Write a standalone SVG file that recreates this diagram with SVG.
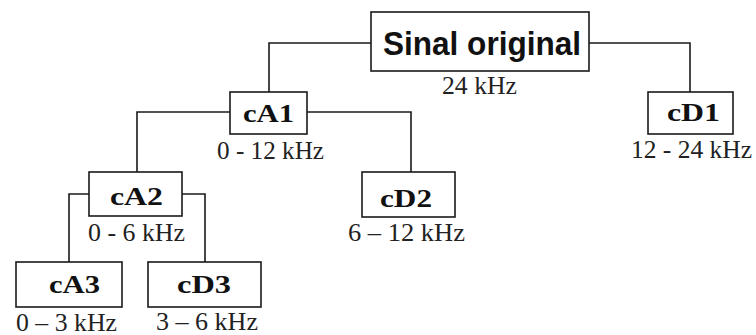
<svg xmlns="http://www.w3.org/2000/svg" width="756" height="335" viewBox="0 0 756 335">
  <style>
    .box { fill: #ffffff; stroke: #1a1a1a; stroke-width: 1.6; }
    .wire { fill: none; stroke: #1a1a1a; stroke-width: 1.6; }
    .root { font-family: "Liberation Sans", Arial, sans-serif; font-weight: bold; font-size: 34px; fill: #111; }
    .name { font-family: "Liberation Serif", "Times New Roman", serif; font-weight: bold; font-size: 25px; fill: #111; }
    .band { font-family: "Liberation Serif", "Times New Roman", serif; font-size: 25px; fill: #222; }
  </style>
  <rect width="756" height="335" fill="#ffffff"/>

  <!-- tree connectors -->
  <g id="connectors">
    <polyline class="wire" points="371,43 269,43 269,92"/>
    <polyline class="wire" points="589,43 690,43 690,92"/>
    <polyline class="wire" points="230,112 137,112 137,172"/>
    <polyline class="wire" points="307,112 411,112 411,172"/>
    <polyline class="wire" points="89,194 69,194 69,262"/>
    <polyline class="wire" points="182,194 205,194 205,262"/>
  </g>

  <g id="root">
    <rect class="box" x="371" y="12" width="218" height="59"/>
    <text class="root" x="383" y="55" textLength="198" lengthAdjust="spacingAndGlyphs">Sinal original</text>
    <text class="band" x="442" y="94" textLength="75" lengthAdjust="spacingAndGlyphs">24 kHz</text>
  </g>

  <g id="cA1">
    <rect class="box" x="230" y="92" width="77" height="42"/>
    <text class="name" x="243" y="122" textLength="51" lengthAdjust="spacingAndGlyphs">cA1</text>
    <text class="band" x="217" y="159" textLength="107" lengthAdjust="spacingAndGlyphs">0 - 12 kHz</text>
  </g>

  <g id="cD1">
    <rect class="box" x="648" y="92" width="85" height="42"/>
    <text class="name" x="667" y="121" textLength="53" lengthAdjust="spacingAndGlyphs">cD1</text>
    <text class="band" x="631" y="158" textLength="121" lengthAdjust="spacingAndGlyphs">12 - 24 kHz</text>
  </g>

  <g id="cA2">
    <rect class="box" x="89" y="172" width="93" height="44"/>
    <text class="name" x="110" y="205" textLength="53" lengthAdjust="spacingAndGlyphs">cA2</text>
    <text class="band" x="88" y="241" textLength="97" lengthAdjust="spacingAndGlyphs">0 - 6 kHz</text>
  </g>

  <g id="cD2">
    <rect class="box" x="362" y="172" width="93" height="45"/>
    <text class="name" x="380" y="207" textLength="52" lengthAdjust="spacingAndGlyphs">cD2</text>
    <text class="band" x="348" y="241" textLength="117" lengthAdjust="spacingAndGlyphs">6 – 12 kHz</text>
  </g>

  <g id="cA3">
    <rect class="box" x="16" y="262" width="106" height="45"/>
    <text class="name" x="49" y="293" textLength="51" lengthAdjust="spacingAndGlyphs">cA3</text>
    <text class="band" x="16" y="331" textLength="101" lengthAdjust="spacingAndGlyphs">0 – 3 kHz</text>
  </g>

  <g id="cD3">
    <rect class="box" x="148" y="262" width="113" height="45"/>
    <text class="name" x="177" y="293" textLength="54" lengthAdjust="spacingAndGlyphs">cD3</text>
    <text class="band" x="156" y="330" textLength="102" lengthAdjust="spacingAndGlyphs">3 – 6 kHz</text>
  </g>
</svg>
